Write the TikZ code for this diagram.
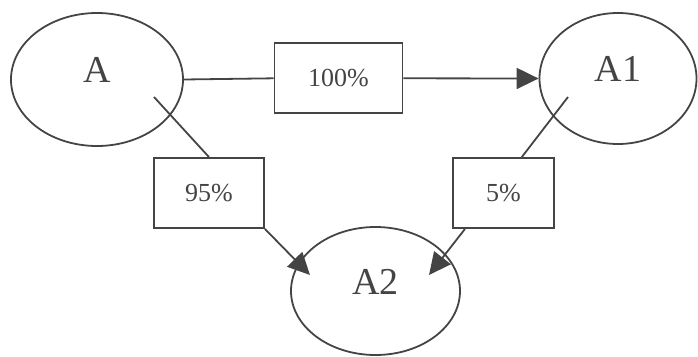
\documentclass[tikz,border=0pt]{standalone}
\usepackage{fontspec}
\setmainfont{Liberation Serif}
\usepackage{tikz}
\usetikzlibrary{arrows.meta,shapes.geometric}
\definecolor{dgray}{HTML}{444444}

\begin{document}
\begin{tikzpicture}[x=1pt,y=-1pt,dgray,line width=1.8pt,
    oval/.style={draw,ellipse,inner sep=0pt,font=\fontsize{38}{40}\selectfont,text height=25pt,text depth=19pt},
    pct/.style={draw,rectangle,inner sep=0pt,minimum height=70pt,font=\fontsize{26}{28}\selectfont},
    flow/.style={-{Triangle[length=22pt,width=21pt]}}]
    \useasboundingbox (0,0) rectangle (698,356);
    \node[oval,minimum width=172pt,minimum height=133pt] (A) at (97,79.5) {A};
    \node[oval,minimum width=157pt,minimum height=131pt] (AONE) at (618,78.5) {A1};
    \node[oval,minimum width=169pt,minimum height=128pt] (ATWO) at (375.5,291) {A2};
    \node[pct,minimum width=128pt] (HUNDRED) at (338.5,78.3) {100\%};
    \node[pct,minimum width=110pt] (NINETYFIVE) at (209,193) {95\%};
    \node[pct,minimum width=101pt] (FIVE) at (503.5,193) {5\%};
    \coordinate (AOUT) at (154,97);
    \coordinate (AONEOUT) at (568,97);
    \coordinate (ATWOINL) at (310,275);
    \coordinate (ATWOINR) at (429,275);

    \draw (A.east) edge (HUNDRED.west)
    (AOUT) edge (NINETYFIVE.north)
    (AONEOUT) edge (FIVE.63);

    \draw (HUNDRED.east) edge[flow] (AONE.west)
    (NINETYFIVE.south east) edge[flow] (ATWOINL)
    (FIVE.223) edge[flow] (ATWOINR);
  \end{tikzpicture}
\end{document}
